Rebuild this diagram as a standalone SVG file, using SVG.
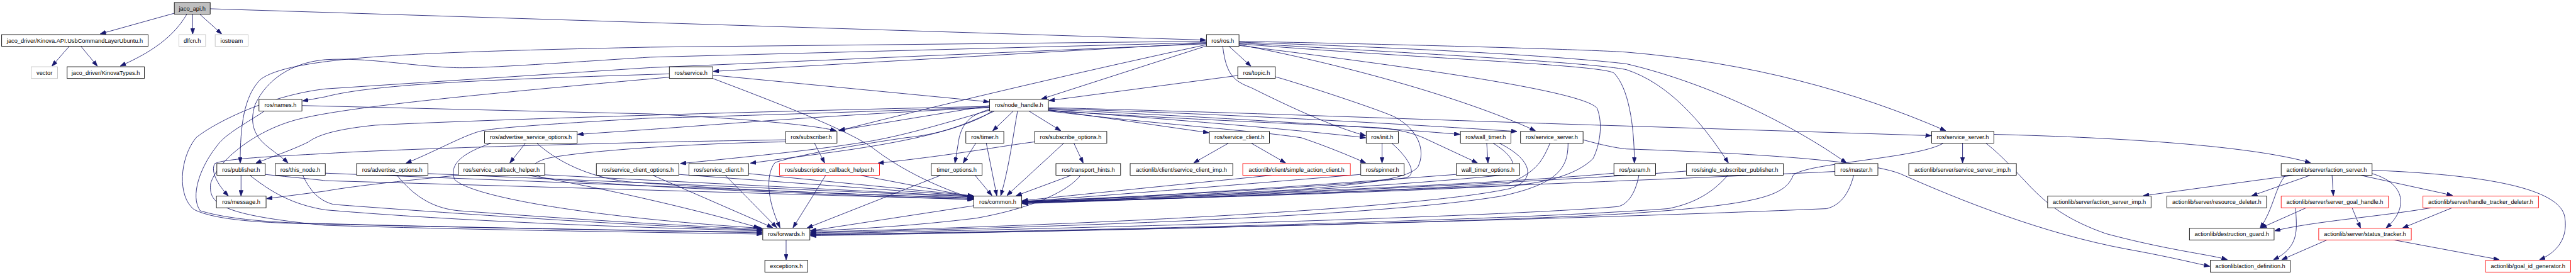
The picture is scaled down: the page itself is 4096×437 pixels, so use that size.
<svg xmlns="http://www.w3.org/2000/svg" width="4096" height="437" viewBox="0 0 4096 437">
<style>
.n rect{fill:#fff;stroke:#000;stroke-width:1.3}
.n.root rect{fill:#bfbfbf}
.n.g rect{stroke:#bfbfbf}
.n.r rect{stroke:#ff0000}
.n text{font-family:"Liberation Sans",Arial,sans-serif;font-size:14px;text-anchor:middle;fill:#000}
#edges path{fill:none;stroke:#191970;stroke-width:1.3;marker-end:url(#ah)}
</style>
<defs>
<marker id="ah" markerUnits="userSpaceOnUse" markerWidth="14" markerHeight="10" refX="13" refY="5" orient="auto" viewBox="0 0 14 10"><path d="M0,0 L14,5 L0,10 z" fill="#191970" stroke="#191970"/></marker>
</defs>
<rect width="4096" height="437" fill="#fff"/>
<g transform="scale(0.66311)">
<g id="edges">
<path d="M417,32 L241,81"/>
<path d="M448,34 C410,100 340,135 289,158"/>
<path d="M462,34 L462,81"/>
<path d="M479,34 L531,81"/>
<path d="M504,21 L2891,96"/>
<path d="M166,111 L125,158"/>
<path d="M194,111 L233,158"/>
<path d="M2947,111 L2999,158"/>
<path d="M2893,110 L2498,237"/>
<path d="M2893,103 L1711,171"/>
<path d="M2893,99 L1560,113 C1000,125 700,135 625,190 C585,230 576,300 576,390"/>
<path d="M2893,102 L1560,137 C1350,150 1150,165 1088,162 C980,158 880,137 780,143 C700,150 640,190 612,250 C595,300 615,330 640,350 C665,370 680,380 690,390"/>
<path d="M2893,105 L1560,162 L780,213 C650,228 520,290 470,330 C430,380 425,470 465,502 C520,530 650,535 780,537 C1100,545 1500,552 1827,558"/>
<path d="M2893,107 C2600,170 2300,240 2012,313"/>
<path d="M2932,111 C2940,180 2960,195 3000,210 C3100,260 3200,305 3274,325"/>
<path d="M2971,107 C3200,150 3500,230 3681,313"/>
<path d="M2971,99 C3300,105 3800,118 3900,125 C4200,150 4450,220 4665,313"/>
<path d="M2971,101 C3300,112 3700,130 3900,153 C4100,200 4300,300 4427,390"/>
<path d="M2971,103 C3400,128 3820,150 3900,167 C4000,200 4080,290 4144,390"/>
<path d="M2971,105 C3400,140 3840,155 3870,175 C3905,210 3919,300 3919,390"/>
<path d="M2971,109 C3300,150 3800,215 3830,260 C3845,300 3835,350 3820,380 C3780,420 3700,440 3617,445 C3300,462 2700,480 2452,484"/>
<path d="M2968,181 L2516,241"/>
<path d="M3058,184 C3100,195 3300,260 3344,280 C3400,310 3420,360 3400,400 C3380,425 3300,440 3100,455 C2800,470 2600,478 2452,483"/>
<path d="M1605,177 C1200,190 900,200 780,232 L726,242"/>
<path d="M1709,180 L2371,244"/>
<path d="M1709,188 C1900,260 2050,320 2100,360 C2180,420 2280,460 2333,475"/>
<path d="M1605,185 C1100,230 800,260 700,290 C600,320 520,390 505,440 C500,490 530,515 780,540 C1100,550 1500,556 1827,561"/>
<path d="M634,266 C600,290 540,320 520,350 C480,400 455,470 480,505 C560,530 700,535 780,536 C1100,545 1500,552 1827,556"/>
<path d="M724,253 L1560,273 C1800,285 1950,300 2004,313"/>
<path d="M1884,335 C1700,338 1600,340 1560,341 C1200,350 900,360 780,368 C650,375 540,380 515,392 C505,410 520,440 547,469"/>
<path d="M1884,340 C1700,342 1400,360 1310,380 C1260,395 1265,420 1310,427 C1500,450 2100,470 2333,478"/>
<path d="M1953,343 L1977,390"/>
<path d="M1099,420 C1000,430 850,445 780,458 L640,476"/>
<path d="M1265,420 C1450,450 1700,510 1820,546"/>
<path d="M1306,419 L2333,471"/>
<path d="M2373,255 C1900,265 1200,285 900,300 C800,310 760,325 740,340 C700,360 640,380 614,391"/>
<path d="M2373,258 C2000,275 1700,300 1560,310 L1386,322"/>
<path d="M2373,257 C2000,270 1700,280 1560,283 C1350,295 1200,305 1158,313 C1120,320 1050,360 974,391"/>
<path d="M2373,253 L2013,312"/>
<path d="M2430,266 L2381,313"/>
<path d="M2467,266 L2543,313"/>
<path d="M2514,263 L2898,318"/>
<path d="M2440,266 C2430,320 2420,400 2400,468"/>
<path d="M2373,262 C2330,275 2310,290 2300,330 L2290,390"/>
<path d="M2373,264 C2250,300 2150,330 2057,343 C1950,360 1800,375 1632,392"/>
<path d="M2380,266 C2300,320 2100,350 2008,363 L1800,391"/>
<path d="M2385,266 C2300,305 2250,322 2172,330 C2000,355 1880,380 1858,390 C1835,420 1840,480 1870,545"/>
<path d="M2514,258 C3000,270 3500,290 3900,302 L4630,325"/>
<path d="M2514,260 C3000,275 3400,300 3637,315"/>
<path d="M2514,262 C2900,280 3300,305 3500,322"/>
<path d="M2514,264 C2800,285 3100,310 3274,330"/>
<path d="M2514,265 C2900,290 3250,302 3319,307 C3380,315 3400,325 3413,330 L3542,390"/>
<path d="M2514,266 C2800,300 3000,312 3120,330 C3180,350 3240,375 3274,390"/>
<path d="M2575,343 L2597,390"/>
<path d="M2551,343 L2415,468"/>
<path d="M2481,340 C2400,350 2300,370 2106,391"/>
<path d="M2340,343 L2310,390"/>
<path d="M2365,343 L2390,468"/>
<path d="M2946,343 L2863,390"/>
<path d="M3000,343 L3082,390"/>
<path d="M3314,343 L3314,390"/>
<path d="M3337,343 C3380,380 3400,420 3370,426 C3300,440 2800,470 2452,482"/>
<path d="M3565,343 L3568,390"/>
<path d="M3580,343 C3640,380 3640,410 3600,420 C3300,450 2800,475 2452,484"/>
<path d="M3595,343 C3670,380 3690,430 3620,452 C3400,500 2600,540 1944,556"/>
<path d="M3717,343 C3700,380 3690,410 3617,440 C3300,460 2700,480 2452,486"/>
<path d="M3760,343 C3760,400 3740,440 3600,470 C3300,520 2500,545 1944,558"/>
<path d="M3492,418 C3200,440 2800,470 2452,484"/>
<path d="M3263,418 C3000,440 2700,465 2452,483"/>
<path d="M3870,415 C3600,440 3000,465 2452,486"/>
<path d="M3930,420 C3920,470 3900,490 3880,495 C3600,520 2500,550 1944,560"/>
<path d="M4044,410 C3800,430 3000,470 2452,487"/>
<path d="M4143,420 C4100,470 4050,490 4000,500 C3600,530 2500,555 1944,562"/>
<path d="M4400,411 C4000,430 3000,470 2452,488"/>
<path d="M4445,420 C4430,480 4400,495 4380,500 C3800,525 2600,555 1944,563"/>
<path d="M4660,343 C4600,380 4330,390 4300,420 C4280,470 4220,490 3900,512 C3500,535 2500,555 1944,565"/>
<path d="M2569,420 L2437,469"/>
<path d="M2591,420 C2560,460 2470,500 2340,523 C2200,540 2050,550 1944,553"/>
<path d="M3050,420 C2800,445 2550,470 2452,481"/>
<path d="M578,420 L578,469"/>
<path d="M599,420 C650,460 700,490 780,503 C1100,530 1500,545 1827,553"/>
<path d="M636,418 C700,425 760,430 780,433 L2333,478"/>
<path d="M726,420 C740,450 760,480 800,490 C1200,520 1600,545 1827,551"/>
<path d="M780,415 L2333,476"/>
<path d="M952,420 C1000,480 1049,500 1100,505 C1300,520 1600,540 1827,549"/>
<path d="M1026,416 L2333,472"/>
<path d="M1260,343 L1223,390"/>
<path d="M1178,343 C1100,370 1078,397 1090,430 C1128,470 1400,520 1827,547"/>
<path d="M1287,343 C1340,390 1412,423 1500,435 C1800,460 2200,470 2333,474"/>
<path d="M1565,420 L1852,545"/>
<path d="M1628,418 L2333,470"/>
<path d="M1739,420 L1862,545"/>
<path d="M1795,416 L2333,469"/>
<path d="M1980,420 L1902,545"/>
<path d="M2062,420 L2334,472"/>
<path d="M2256,420 L1936,546"/>
<path d="M2338,420 L2378,468"/>
<path d="M2335,493 L1944,553"/>
<path d="M1885,575 L1885,622"/>
<path d="M4706,343 L4706,390"/>
<path d="M4781,322 C5100,330 5400,350 5540,390"/>
<path d="M4762,343 C4870,430 4880,500 5050,560 C5200,600 5300,610 5340,622"/>
<path d="M3796,335 C3850,350 3880,355 3900,357 C4200,367 4480,385 4558,417 C4700,480 4900,560 5100,597 C5200,615 5260,630 5298,638"/>
<path d="M5500,420 L5140,469"/>
<path d="M5540,420 L5400,469"/>
<path d="M5592,420 L5595,468"/>
<path d="M5660,420 L5880,468"/>
<path d="M5480,420 C5455,450 5452,500 5420,546"/>
<path d="M5688,416 C5770,440 5775,500 5722,546"/>
<path d="M5688,408 C6000,420 6140,460 6150,520 C6160,580 6120,610 6090,622"/>
<path d="M5530,498 L5422,546"/>
<path d="M5640,498 L5660,546"/>
<path d="M5505,498 C5505,540 5520,590 5452,622"/>
<path d="M5880,498 L5762,546"/>
<path d="M5830,498 C5700,520 5550,530 5455,553"/>
<path d="M5580,575 L5472,622"/>
<path d="M5740,575 L5992,622"/>
</g>
<g id="n_jaco_api" class="n root"><rect x="418" y="6" width="86" height="28"/><text x="461" y="25">jaco_api.h</text></g>
<g id="n_kinova_api" class="n"><rect x="4" y="83" width="351" height="28"/><text x="179.5" y="102">jaco_driver/Kinova.API.UsbCommandLayerUbuntu.h</text></g>
<g id="n_dlfcn" class="n g"><rect x="429" y="83" width="64" height="28"/><text x="461" y="102">dlfcn.h</text></g>
<g id="n_iostream" class="n g"><rect x="516" y="83" width="79" height="28"/><text x="555.5" y="102">iostream</text></g>
<g id="n_ros" class="n"><rect x="2893" y="83" width="78" height="28"/><text x="2932" y="102">ros/ros.h</text></g>
<g id="n_vector" class="n g"><rect x="75" y="160" width="63" height="28"/><text x="106.5" y="179">vector</text></g>
<g id="n_kinova_types" class="n"><rect x="161" y="160" width="185" height="28"/><text x="253.5" y="179">jaco_driver/KinovaTypes.h</text></g>
<g id="n_service" class="n"><rect x="1605" y="160" width="104" height="28"/><text x="1657" y="179">ros/service.h</text></g>
<g id="n_topic" class="n"><rect x="2968" y="160" width="90" height="28"/><text x="3013" y="179">ros/topic.h</text></g>
<g id="n_names" class="n"><rect x="621" y="238" width="103" height="28"/><text x="672.5" y="257">ros/names.h</text></g>
<g id="n_node_handle" class="n"><rect x="2373" y="238" width="141" height="28"/><text x="2443.5" y="257">ros/node_handle.h</text></g>
<g id="n_adv_srv_opts" class="n"><rect x="1162" y="315" width="222" height="28"/><text x="1273" y="334">ros/advertise_service_options.h</text></g>
<g id="n_subscriber" class="n"><rect x="1884" y="315" width="123" height="28"/><text x="1945.5" y="334">ros/subscriber.h</text></g>
<g id="n_timer" class="n"><rect x="2316" y="315" width="91" height="28"/><text x="2361.5" y="334">ros/timer.h</text></g>
<g id="n_sub_opts" class="n"><rect x="2481" y="315" width="173" height="28"/><text x="2567.5" y="334">ros/subscribe_options.h</text></g>
<g id="n_srv_client_a" class="n"><rect x="2900" y="315" width="144" height="28"/><text x="2972" y="334">ros/service_client.h</text></g>
<g id="n_init" class="n"><rect x="3276" y="315" width="77" height="28"/><text x="3314.5" y="334">ros/init.h</text></g>
<g id="n_wall_timer" class="n"><rect x="3502" y="315" width="121" height="28"/><text x="3562.5" y="334">ros/wall_timer.h</text></g>
<g id="n_srv_server_a" class="n"><rect x="3646" y="315" width="150" height="28"/><text x="3721" y="334">ros/service_server.h</text></g>
<g id="n_srv_server_b" class="n"><rect x="4632" y="315" width="149" height="28"/><text x="4706.5" y="334">ros/service_server.h</text></g>
<g id="n_publisher" class="n"><rect x="520" y="392" width="116" height="28"/><text x="578" y="411">ros/publisher.h</text></g>
<g id="n_this_node" class="n"><rect x="660" y="392" width="120" height="28"/><text x="720" y="411">ros/this_node.h</text></g>
<g id="n_adv_opts" class="n"><rect x="855" y="392" width="171" height="28"/><text x="940.5" y="411">ros/advertise_options.h</text></g>
<g id="n_srv_cb_helper" class="n"><rect x="1099" y="392" width="207" height="28"/><text x="1202.5" y="411">ros/service_callback_helper.h</text></g>
<g id="n_srv_client_opts" class="n"><rect x="1430" y="392" width="198" height="28"/><text x="1529" y="411">ros/service_client_options.h</text></g>
<g id="n_srv_client_b" class="n"><rect x="1652" y="392" width="143" height="28"/><text x="1723.5" y="411">ros/service_client.h</text></g>
<g id="n_sub_cb_helper" class="n r"><rect x="1869" y="392" width="240" height="28"/><text x="1989" y="411">ros/subscription_callback_helper.h</text></g>
<g id="n_timer_opts" class="n"><rect x="2233" y="392" width="122" height="28"/><text x="2294" y="411">timer_options.h</text></g>
<g id="n_transport_hints" class="n"><rect x="2532" y="392" width="155" height="28"/><text x="2609.5" y="411">ros/transport_hints.h</text></g>
<g id="n_srv_client_imp" class="n"><rect x="2710" y="392" width="246" height="28"/><text x="2833" y="411">actionlib/client/service_client_imp.h</text></g>
<g id="n_simple_action_client" class="n r"><rect x="2980" y="392" width="258" height="28"/><text x="3109" y="411">actionlib/client/simple_action_client.h</text></g>
<g id="n_spinner" class="n"><rect x="3263" y="392" width="104" height="28"/><text x="3315" y="411">ros/spinner.h</text></g>
<g id="n_wall_timer_opts" class="n"><rect x="3492" y="392" width="152" height="28"/><text x="3568" y="411">wall_timer_options.h</text></g>
<g id="n_param" class="n"><rect x="3870" y="392" width="100" height="28"/><text x="3920" y="411">ros/param.h</text></g>
<g id="n_single_sub_pub" class="n"><rect x="4044" y="392" width="232" height="28"/><text x="4160" y="411">ros/single_subscriber_publisher.h</text></g>
<g id="n_master" class="n"><rect x="4400" y="392" width="103" height="28"/><text x="4451.5" y="411">ros/master.h</text></g>
<g id="n_srv_server_imp" class="n"><rect x="4577" y="392" width="258" height="28"/><text x="4706" y="411">actionlib/server/service_server_imp.h</text></g>
<g id="n_action_server" class="n"><rect x="5470" y="392" width="218" height="28"/><text x="5579" y="411">actionlib/server/action_server.h</text></g>
<g id="n_message" class="n"><rect x="519" y="470" width="119" height="28"/><text x="578.5" y="489">ros/message.h</text></g>
<g id="n_common" class="n"><rect x="2335" y="470" width="115" height="28"/><text x="2392.5" y="489">ros/common.h</text></g>
<g id="n_action_server_imp" class="n"><rect x="4910" y="470" width="248" height="28"/><text x="5034" y="489">actionlib/server/action_server_imp.h</text></g>
<g id="n_resource_deleter" class="n"><rect x="5196" y="470" width="239" height="28"/><text x="5315.5" y="489">actionlib/server/resource_deleter.h</text></g>
<g id="n_server_goal_handle" class="n r"><rect x="5470" y="470" width="257" height="28"/><text x="5598.5" y="489">actionlib/server/server_goal_handle.h</text></g>
<g id="n_handle_tracker_deleter" class="n r"><rect x="5810" y="470" width="277" height="28"/><text x="5948.5" y="489">actionlib/server/handle_tracker_deleter.h</text></g>
<g id="n_forwards" class="n"><rect x="1829" y="547" width="113" height="28"/><text x="1885.5" y="566">ros/forwards.h</text></g>
<g id="n_destruction_guard" class="n"><rect x="5250" y="547" width="203" height="28"/><text x="5351.5" y="566">actionlib/destruction_guard.h</text></g>
<g id="n_status_tracker" class="n r"><rect x="5560" y="547" width="222" height="28"/><text x="5671" y="566">actionlib/server/status_tracker.h</text></g>
<g id="n_exceptions" class="n"><rect x="1834" y="624" width="103" height="28"/><text x="1885.5" y="643">exceptions.h</text></g>
<g id="n_action_definition" class="n"><rect x="5300" y="624" width="192" height="28"/><text x="5396" y="643">actionlib/action_definition.h</text></g>
<g id="n_goal_id_generator" class="n r"><rect x="5960" y="624" width="204" height="28"/><text x="6062" y="643">actionlib/goal_id_generator.h</text></g>
</g>
</svg>
